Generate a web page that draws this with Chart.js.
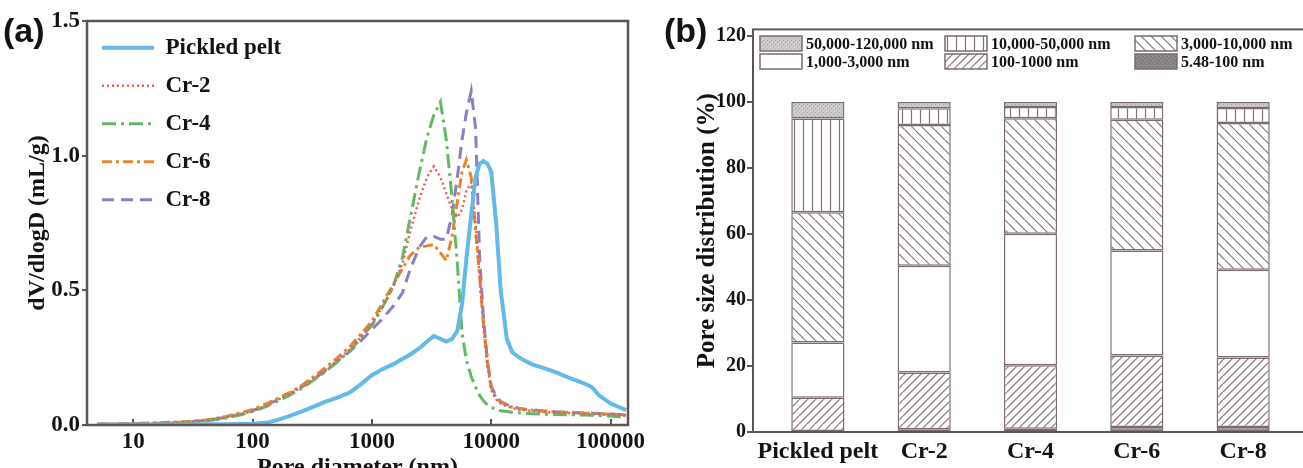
<!DOCTYPE html>
<html>
<head>
<meta charset="utf-8">
<script src="https://cdn.jsdelivr.net/npm/chart.js@4.4.1/dist/chart.umd.min.js"></script>
<style>
  html, body { margin: 0; padding: 0; background: #fff; overflow: hidden; width: 1303px; height: 468px; }
  #wrapA { position: absolute; left: 0; top: 0; width: 660px; height: 490px; }
  #wrapB { position: absolute; left: 655px; top: 0; width: 680px; height: 490px; }
</style>
</head>
<body>
<div id="wrapA"><canvas id="poreCurve"></canvas></div>
<div id="wrapB"><canvas id="poreShare"></canvas></div>
<script>
// ---------- (a) dV/dlogD versus pore diameter ----------
const poreDiameters = [5, 7, 10, 15, 20, 30, 40, 50, 60, 80,
  100, 130, 160, 200, 250, 300, 400, 500, 650, 800,
  1000, 1200, 1500, 1800, 2100, 2500, 2900, 3300, 3750, 4200,
  4700, 5200, 5700, 6200, 6800, 7400, 8000, 8600, 9300, 10000,
  11000, 12000, 13500, 15000, 18000, 22000, 28000, 35000, 45000, 60000,
  70000, 80000, 100000, 120000, 135000];

const pickledPelt = [0.002, 0.002, 0.002, 0.002, 0.002, 0.002, 0.003, 0.003, 0.003, 0.004,
  0.005, 0.008, 0.018, 0.032, 0.048, 0.062, 0.085, 0.100, 0.120, 0.150,
  0.185, 0.205, 0.225, 0.245, 0.262, 0.285, 0.310, 0.330, 0.320, 0.310,
  0.320, 0.350, 0.450, 0.620, 0.780, 0.920, 0.970, 0.980, 0.970, 0.940,
  0.750, 0.500, 0.320, 0.270, 0.245, 0.225, 0.210, 0.195, 0.175, 0.155,
  0.140, 0.110, 0.080, 0.065, 0.055];

const cr2 = [0.003, 0.004, 0.005, 0.006, 0.008, 0.011, 0.016, 0.022, 0.028, 0.040,
  0.052, 0.072, 0.092, 0.112, 0.138, 0.162, 0.200, 0.235, 0.280, 0.325,
  0.375, 0.430, 0.510, 0.600, 0.720, 0.840, 0.920, 0.960, 0.920, 0.860,
  0.800, 0.770, 0.800, 0.870, 0.900, 0.740, 0.550, 0.370, 0.220, 0.130,
  0.095, 0.080, 0.070, 0.062, 0.056, 0.052, 0.048, 0.046, 0.044, 0.042,
  0.041, 0.040, 0.038, 0.036, 0.035];

const cr4 = [0.002, 0.003, 0.004, 0.005, 0.007, 0.010, 0.015, 0.020, 0.026, 0.038,
  0.050, 0.068, 0.088, 0.108, 0.132, 0.156, 0.195, 0.230, 0.275, 0.320,
  0.370, 0.430, 0.510, 0.620, 0.770, 0.940, 1.070, 1.150, 1.200, 1.060,
  0.840, 0.600, 0.340, 0.240, 0.180, 0.140, 0.110, 0.090, 0.075, 0.065,
  0.058, 0.053, 0.050, 0.047, 0.044, 0.042, 0.040, 0.039, 0.038, 0.037,
  0.036, 0.035, 0.033, 0.031, 0.030];

const cr6 = [0.004, 0.005, 0.006, 0.008, 0.010, 0.014, 0.019, 0.025, 0.032, 0.045,
  0.058, 0.078, 0.098, 0.118, 0.143, 0.168, 0.210, 0.245, 0.290, 0.335,
  0.385, 0.445, 0.520, 0.580, 0.630, 0.660, 0.665, 0.670, 0.640, 0.610,
  0.700, 0.830, 0.940, 0.985, 0.920, 0.720, 0.550, 0.380, 0.230, 0.140,
  0.100, 0.085, 0.074, 0.066, 0.059, 0.055, 0.051, 0.048, 0.046, 0.044,
  0.043, 0.042, 0.040, 0.038, 0.037];

const cr8 = [0.003, 0.004, 0.005, 0.006, 0.008, 0.012, 0.017, 0.023, 0.029, 0.041,
  0.054, 0.073, 0.093, 0.113, 0.137, 0.160, 0.198, 0.232, 0.272, 0.310,
  0.355, 0.390, 0.440, 0.490, 0.580, 0.660, 0.700, 0.700, 0.690, 0.690,
  0.780, 0.920, 1.060, 1.160, 1.240, 1.100, 0.620, 0.400, 0.240, 0.145,
  0.105, 0.088, 0.076, 0.068, 0.060, 0.056, 0.052, 0.049, 0.047, 0.045,
  0.044, 0.043, 0.041, 0.039, 0.038];

const seriesNames = ['Pickled pelt', 'Cr-2', 'Cr-4', 'Cr-6', 'Cr-8'];
const diameterTicks = [10, 100, 1000, 10000, 100000];
const dvTicks = [0, 0.5, 1.0, 1.5];

// ---------- (b) share of each pore size range ----------
const samples = ['Pickled pelt', 'Cr-2', 'Cr-4', 'Cr-6', 'Cr-8'];
const rangeLabels = ['5.48-100 nm', '100-1000 nm', '1,000-3,000 nm',
  '3,000-10,000 nm', '10,000-50,000 nm', '50,000-120,000 nm'];
const share5to100 = [0.3, 0.8, 1.0, 1.5, 1.5];
const share100to1000 = [10.1, 17.2, 19.2, 21.7, 21.1];
const share1kto3k = [16.7, 32.4, 39.9, 31.8, 26.6];
const share3kto10k = [39.5, 42.6, 35.0, 39.6, 44.4];
const share10kto50k = [28.4, 5.1, 3.4, 3.9, 4.6];
const share50kto120k = [5.0, 1.9, 1.5, 1.5, 1.8];
const percentTicks = [0, 20, 40, 60, 80, 100, 120];

// ---------- shared styling ----------
const SERIF = "'Liberation Serif', 'Times New Roman', serif";
const SANS = "'Liberation Sans', Arial, sans-serif";
const INK = '#161212';
const AXIS = '#5f5454';
const EDGE = '#7a6c6c';

// Box drawn round the plotting area
const frame = {
  id: 'frame',
  afterDatasetsDraw(chart, args, opts) {
    const { ctx, chartArea: a } = chart;
    ctx.save();
    ctx.strokeStyle = opts.color;
    ctx.lineWidth = opts.width;
    ctx.strokeRect(a.left, a.top, a.right - a.left, a.bottom - a.top);
    ctx.restore();
  }
};

// Panel letter in the upper-left corner
const panelTag = {
  id: 'panelTag',
  afterDraw(chart, args, opts) {
    const ctx = chart.ctx;
    ctx.save();
    ctx.font = 'bold ' + opts.size + 'px ' + SANS;
    ctx.fillStyle = INK;
    ctx.textBaseline = 'alphabetic';
    ctx.fillText(opts.text, opts.x, opts.y);
    ctx.restore();
  }
};

// Two-row key for the stacked bars, drawn inside the plot area
const gridLegend = {
  id: 'gridLegend',
  afterDraw(chart, args, opts) {
    const ctx = chart.ctx;
    const a = chart.chartArea;
    const sets = chart.data.datasets.slice().reverse();
    ctx.save();
    ctx.font = 'bold ' + opts.fontSize + 'px ' + SERIF;
    ctx.textBaseline = 'middle';
    sets.forEach((ds, i) => {
      const x = a.left + opts.cols[i % 3];
      const y = a.top + opts.rows[Math.floor(i / 3)];
      ctx.fillStyle = ds.backgroundColor;
      ctx.fillRect(x, y, opts.boxW, opts.boxH);
      ctx.strokeStyle = ds.borderColor;
      ctx.lineWidth = 1.5;
      ctx.strokeRect(x, y, opts.boxW, opts.boxH);
      ctx.fillStyle = INK;
      ctx.fillText(ds.label, x + opts.boxW + 4, y + opts.boxH / 2 + 1);
    });
    ctx.restore();
  }
};

// Fill patterns for the bar segments
function tile(size, paint) {
  const c = document.createElement('canvas');
  c.width = c.height = size;
  const g = c.getContext('2d');
  paint(g, size);
  return g.createPattern(c, 'repeat');
}
function hatch(dir, step) {
  return tile(step, (g, s) => {
    g.fillStyle = '#ffffff';
    g.fillRect(0, 0, s, s);
    g.strokeStyle = '#827474';
    g.lineWidth = 1.2;
    g.beginPath();
    if (dir === 'v') {
      g.moveTo(s / 2, 0); g.lineTo(s / 2, s);
    } else {
      for (const k of [-s, 0, s]) {
        if (dir === '/') { g.moveTo(k, s); g.lineTo(k + s, 0); }
        else { g.moveTo(k, 0); g.lineTo(k + s, s); }
      }
    }
    g.stroke();
  });
}
function stipple(bg, dot) {
  return tile(4, (g, s) => {
    g.fillStyle = bg; g.fillRect(0, 0, s, s);
    g.fillStyle = dot; g.fillRect(0, 0, 1, 1); g.fillRect(2, 2, 1, 1);
  });
}

// ---------- chart (a) ----------
const toPoints = ys => poreDiameters.map((d, i) => ({ x: d, y: ys[i] }));
const lineLooks = [
  { color: '#63b9e7', width: 4, dash: [] },
  { color: '#e0605f', width: 2.5, dash: [2, 3] },
  { color: '#63b866', width: 3, dash: [14, 5, 3, 5] },
  { color: '#e9832c', width: 3, dash: [10, 4, 3, 4] },
  { color: '#8b7ec4', width: 3, dash: [12, 7] }
];
const curves = [pickledPelt, cr2, cr4, cr6, cr8];

// legend entries carry each line's own dash and width
function curveLegendItems(chart) {
  const items = Chart.defaults.plugins.legend.labels.generateLabels(chart);
  return items.map(item => {
    const ds = chart.data.datasets[item.datasetIndex];
    return Object.assign(item, {
      lineDash: ds.borderDash,
      lineWidth: ds.borderWidth,
      strokeStyle: ds.borderColor
    });
  });
}

new Chart(document.getElementById('poreCurve'), {
  type: 'line',
  data: {
    datasets: curves.map((ys, k) => ({
      label: seriesNames[k],
      data: toPoints(ys),
      borderColor: lineLooks[k].color,
      backgroundColor: lineLooks[k].color,
      borderWidth: lineLooks[k].width,
      borderDash: lineLooks[k].dash,
      pointRadius: 0,
      tension: 0,
      fill: false
    }))
  },
  options: {
    responsive: true,
    maintainAspectRatio: false,
    animation: false,
    layout: { padding: { left: 0, top: 21, right: 32, bottom: 0 } },
    plugins: {
      legend: {
        position: 'chartArea',
        align: 'start',
        title: { display: true, text: '', font: { size: 1 }, padding: { top: 20, bottom: 0 } },
        labels: {
          usePointStyle: true,
          pointStyle: 'line',
          pointStyleWidth: 52,
          padding: 15,
          color: INK,
          font: { family: SERIF, size: 23, weight: 'bold' },
          generateLabels: curveLegendItems
        }
      },
      tooltip: { enabled: false },
      frame: { color: AXIS, width: 2.5 },
      panelTag: { text: '(a)', x: 3, y: 42, size: 34 }
    },
    scales: {
      x: {
        type: 'logarithmic',
        min: 4.1,
        max: 140000,
        afterBuildTicks: ax => { ax.ticks = diameterTicks.map(v => ({ value: v })); },
        afterFit: ax => { ax.height = 65; },
        ticks: {
          callback: v => String(v),
          padding: 9,
          color: INK,
          font: { family: SERIF, size: 23, weight: 'bold' },
          maxRotation: 0
        },
        grid: { drawOnChartArea: false, drawTicks: true, tickLength: -6, color: AXIS, lineWidth: 2 },
        border: { display: false },
        title: {
          display: true,
          text: 'Pore diameter (nm)',
          color: INK,
          font: { family: SERIF, size: 24, weight: 'bold' },
          padding: { top: 0, bottom: 8 }
        }
      },
      y: {
        min: 0,
        max: 1.5,
        afterBuildTicks: ax => { ax.ticks = dvTicks.map(v => ({ value: v })); },
        afterFit: ax => { ax.width = 87; },
        ticks: {
          callback: v => Number(v).toFixed(1),
          padding: 2,
          color: INK,
          font: { family: SERIF, size: 23, weight: 'bold' }
        },
        grid: { drawOnChartArea: false, drawTicks: true, tickLength: 5, color: AXIS, lineWidth: 2 },
        border: { display: false },
        title: {
          display: true,
          text: 'dV/dlogD (mL/g)',
          color: INK,
          font: { family: SERIF, size: 24, weight: 'bold' },
          padding: { top: 23, bottom: 0 }
        }
      }
    }
  },
  plugins: [frame, panelTag]
});

// ---------- chart (b) ----------
const bands = [share5to100, share100to1000, share1kto3k, share3kto10k, share10kto50k, share50kto120k];
const bandFills = [
  stipple('#8d8888', '#6c6666'),
  hatch('/', 8),
  '#ffffff',
  hatch('\\', 10),
  hatch('v', 9),
  stipple('#cdcaca', '#aaa5a5')
];

new Chart(document.getElementById('poreShare'), {
  type: 'bar',
  data: {
    datasets: bands.map((vals, k) => ({
      label: rangeLabels[k],
      data: vals.map((v, i) => ({ x: i + 1, y: v })),
      backgroundColor: bandFills[k],
      borderColor: EDGE,
      borderWidth: 1.5,
      borderSkipped: false,
      barPercentage: 0.5,
      categoryPercentage: 1
    }))
  },
  options: {
    responsive: true,
    maintainAspectRatio: false,
    animation: false,
    layout: { padding: { left: 0, top: 29.4, right: 27, bottom: 0 } },
    plugins: {
      legend: { display: false },
      tooltip: { enabled: false },
      frame: { color: AXIS, width: 2 },
      panelTag: { text: '(b)', x: 9, y: 42, size: 34 },
      gridLegend: { cols: [7, 192, 382], rows: [6.6, 24.6], boxW: 42, boxH: 15, fontSize: 16 }
    },
    scales: {
      x: {
        type: 'linear',
        stacked: true,
        offset: false,
        min: 0.39,
        max: 5.61,
        afterBuildTicks: ax => { ax.ticks = samples.map((s, i) => ({ value: i + 1 })); },
        afterFit: ax => { ax.height = 58; },
        ticks: {
          callback: v => samples[Math.round(v) - 1],
          padding: 5,
          color: INK,
          font: { family: SERIF, size: 24, weight: 'bold' },
          maxRotation: 0
        },
        grid: { display: false, drawTicks: false, offset: false },
        border: { display: false }
      },
      y: {
        stacked: true,
        min: 0,
        max: 122,
        afterBuildTicks: ax => { ax.ticks = percentTicks.map(v => ({ value: v })); },
        afterFit: ax => { ax.width = 98; },
        ticks: {
          padding: 1,
          color: INK,
          font: { family: SERIF, size: 20, weight: 'bold' }
        },
        grid: { drawOnChartArea: false, drawTicks: true, tickLength: 6, color: AXIS, lineWidth: 2 },
        border: { display: false },
        title: {
          display: true,
          text: 'Pore size distribution (%)',
          color: INK,
          font: { family: SERIF, size: 25, weight: 'bold' },
          padding: { top: 38, bottom: 0 }
        }
      }
    }
  },
  plugins: [frame, panelTag, gridLegend]
});
</script>
</body>
</html>
